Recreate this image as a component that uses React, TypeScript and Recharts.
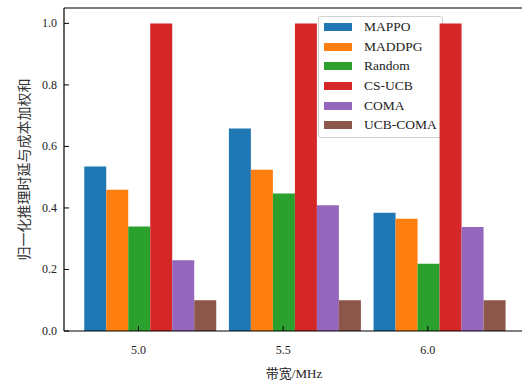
import React from 'react';
import { BarChart, Bar, XAxis, YAxis, ReferenceLine } from 'recharts';

const bandwidths = ['5.0', '5.5', '6.0'];
const mappo = [0.535, 0.658, 0.384];
const maddpg = [0.459, 0.524, 0.365];
const randomPolicy = [0.34, 0.447, 0.219];
const csUcb = [1.0, 1.0, 1.0];
const coma = [0.23, 0.409, 0.338];
const ucbComa = [0.1, 0.1, 0.1];
const yTicks = [0, 0.2, 0.4, 0.6, 0.8, 1.0];

const seriesList = [
  { key: 'MAPPO', values: mappo, color: '#1f77b4' },
  { key: 'MADDPG', values: maddpg, color: '#ff7f0e' },
  { key: 'Random', values: randomPolicy, color: '#2ca02c' },
  { key: 'CS-UCB', values: csUcb, color: '#d62728' },
  { key: 'COMA', values: coma, color: '#9467bd' },
  { key: 'UCB-COMA', values: ucbComa, color: '#8c564b' },
];

const data = bandwidths.map((bw, i) => {
  const row: Record<string, string | number> = { bw };
  seriesList.forEach((s) => {
    row[s.key] = s.values[i];
  });
  return row;
});

const FONT = '"Liberation Serif", "Noto Sans CJK SC", serif';
const BAR_W = 21.7;

function XTick(props: any) {
  const { x, y, payload } = props;
  // matplotlib tick sits on the 3rd bar of each group
  const cx = x - BAR_W / 2;
  return (
    <g>
      <line x1={cx} x2={cx} y1={y} y2={y - 5} stroke="#000" strokeWidth={1} />
      <text x={cx} y={y + 23} textAnchor="middle" fontSize={12} fontFamily={FONT} fill="#222">
        {payload.value}
      </text>
    </g>
  );
}

function YTick(props: any) {
  const { x, y, payload } = props;
  return (
    <g>
      <line x1={x} x2={x + 5} y1={y} y2={y} stroke="#000" strokeWidth={1} />
      <text x={x - 7} y={y + 4} textAnchor="end" fontSize={12} fontFamily={FONT} fill="#222">
        {Number(payload.value).toFixed(1)}
      </text>
    </g>
  );
}

function LegendBox() {
  return (
    <div
      style={{
        boxSizing: 'border-box',
        border: '1px solid #d0d0d0',
        borderRadius: 3,
        background: 'rgba(255,255,255,0.8)',
        padding: '0 4px 3px 5px',
        fontFamily: FONT,
        fontSize: 13.5,
        fontWeight: 'normal',
        color: '#222',
        width: 125,
        height: 122,
      }}
    >
      {seriesList.map((s) => (
        <div key={s.key} style={{ display: 'flex', alignItems: 'center', height: 19.7 }}>
          <span style={{ display: 'inline-block', width: 28, height: 8, background: s.color, marginRight: 12, flexShrink: 0 }} />
          <span style={{ whiteSpace: 'nowrap' }}>{s.key}</span>
        </div>
      ))}
    </div>
  );
}

export default function App() {
  return (
    <div style={{ position: 'fixed', left: 0, top: 0, width: 522, height: 380, overflow: 'hidden', background: '#fff' }}>
      <BarChart
        width={530}
        height={380}
        data={data}
        margin={{ top: 8, right: 6, bottom: 0, left: 4 }}
        barCategoryGap="5%"
        barGap={0}
      >
        <XAxis
          dataKey="bw"
          height={49}
          padding={{ left: 13, right: 13 }}
          tickSize={0}
          tickMargin={0}
          tickLine={false}
          axisLine={{ stroke: '#000', strokeWidth: 1.2 }}
          tick={<XTick />}
          label={{ value: '带宽/MHz', position: 'insideBottom', offset: 2, fontSize: 13, fontFamily: FONT, fill: '#222' }}
        />
        <YAxis
          width={60}
          domain={[0, 1.05]}
          ticks={yTicks}
          tickSize={0}
          tickMargin={0}
          tickLine={false}
          axisLine={{ stroke: '#000', strokeWidth: 1.2 }}
          tick={<YTick />}
          label={{ value: '归一化推理时延与成本加权和', angle: -90, position: 'center', dx: -10, fontSize: 14, fontFamily: FONT, fill: '#333' }}
        />
        <ReferenceLine y={1.05} stroke="#000" strokeWidth={1.2} />
        {seriesList.map((s) => (
          <Bar key={s.key} dataKey={s.key} fill={s.color} isAnimationActive={false} />
        ))}
        <foreignObject x={318} y={16} width={130} height={125}>
          <LegendBox />
        </foreignObject>
      </BarChart>
    </div>
  );
}
